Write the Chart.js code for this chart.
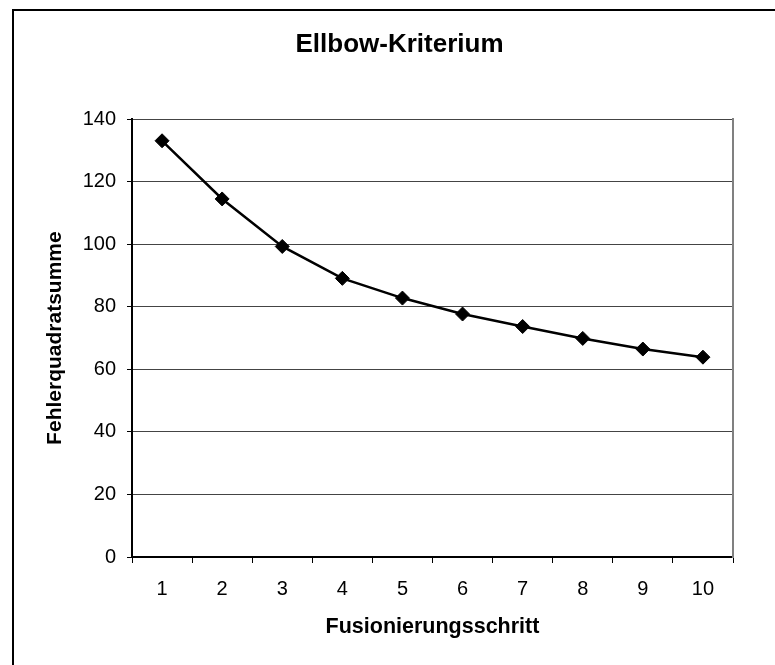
<!DOCTYPE html>
<html lang="de">
<head>
<meta charset="utf-8">
<title>Ellbow-Kriterium</title>
<script src="https://cdn.jsdelivr.net/npm/chart.js@4/dist/chart.umd.min.js"></script>
<style>
    html, body { margin: 0; padding: 0; background: #fff; }
    #wrap { position: relative; width: 775px; height: 665px; overflow: hidden; }
    #frame {
        position: absolute; left: 12px; top: 9px; right: -10px; bottom: -10px;
        border-left: 2px solid #000; border-top: 2px solid #000;
        pointer-events: none;
    }
    canvas { position: absolute; left: 0; top: 0; }
</style>
</head>
<body>
<div id="wrap">
    <div id="frame"></div>
    <canvas id="elbow-chart" width="775" height="665"></canvas>
</div>
<script>
const steps = ['1', '2', '3', '4', '5', '6', '7', '8', '9', '10'];
const sse = [133.1, 114.5, 99.3, 89.1, 82.8, 77.7, 73.7, 69.9, 66.5, 63.9];
const yTicks = [0, 20, 40, 60, 80, 100, 120, 140];

const FONT = "'Liberation Sans', Arial, sans-serif";

new Chart(document.getElementById('elbow-chart').getContext('2d'), {
    type: 'line',
    data: {
        labels: steps,
        datasets: [
            {
                label: 'Fehlerquadratsumme',
                data: sse,
                borderColor: '#000',
                borderWidth: 2.5,
                backgroundColor: '#000',
                pointStyle: 'rectRot',
                pointRadius: 7,
                pointBorderWidth: 1,
                pointBackgroundColor: '#000',
                pointBorderColor: '#000',
                tension: 0,
                fill: false,
            },
        ],
    },
    options: {
        responsive: false,
        animation: false,
        layout: { padding: { left: 24, right: 0, top: 0, bottom: 0 } },
        plugins: {
            legend: { display: false },
            tooltip: { enabled: false },
            title: {
                display: true,
                text: 'Ellbow-Kriterium',
                color: '#000',
                font: { family: FONT, size: 26, weight: 'bold' },
                padding: { top: 29, bottom: 59 },
            },
        },
        scales: {
            x: {
                offset: true,
                grid: {
                    offset: true,
                    drawOnChartArea: false,
                    drawTicks: true,
                    tickLength: 6,
                    tickColor: '#000',
                },
                border: { color: '#000', width: 2 },
                ticks: {
                    color: '#000',
                    font: { family: FONT, size: 20 },
                    padding: 14,
                    maxRotation: 0,
                },
                title: {
                    display: true,
                    text: 'Fusionierungsschritt',
                    color: '#000',
                    font: { family: FONT, size: 21.5, weight: 'bold' },
                    padding: { top: 0, bottom: 25 },
                },
                afterFit: (scale) => { scale.height = 108; },
            },
            y: {
                min: 0,
                max: 140,
                afterBuildTicks: (scale) => {
                    scale.ticks = yTicks.map((v) => ({ value: v }));
                },
                grid: {
                    color: '#444',
                    lineWidth: 1,
                    tickLength: 5,
                    tickColor: '#000',
                },
                border: { color: '#000', width: 2 },
                ticks: {
                    color: '#000',
                    font: { family: FONT, size: 20 },
                    padding: 11,
                },
                title: {
                    display: true,
                    text: 'Fehlerquadratsumme',
                    color: '#000',
                    font: { family: FONT, size: 21, weight: 'bold' },
                    padding: { top: 19, bottom: 0 },
                },
                afterFit: (scale) => { scale.width = 108; },
            },
            // empty right axis: keeps the margin and draws the grey plot edge
            yRight: {
                position: 'right',
                min: 0,
                max: 140,
                grid: { drawOnChartArea: false, drawTicks: false },
                border: { color: '#808080', width: 2 },
                ticks: { display: false },
                afterFit: (scale) => { scale.width = 42; },
            },
        },
    },
});
</script>
</body>
</html>
